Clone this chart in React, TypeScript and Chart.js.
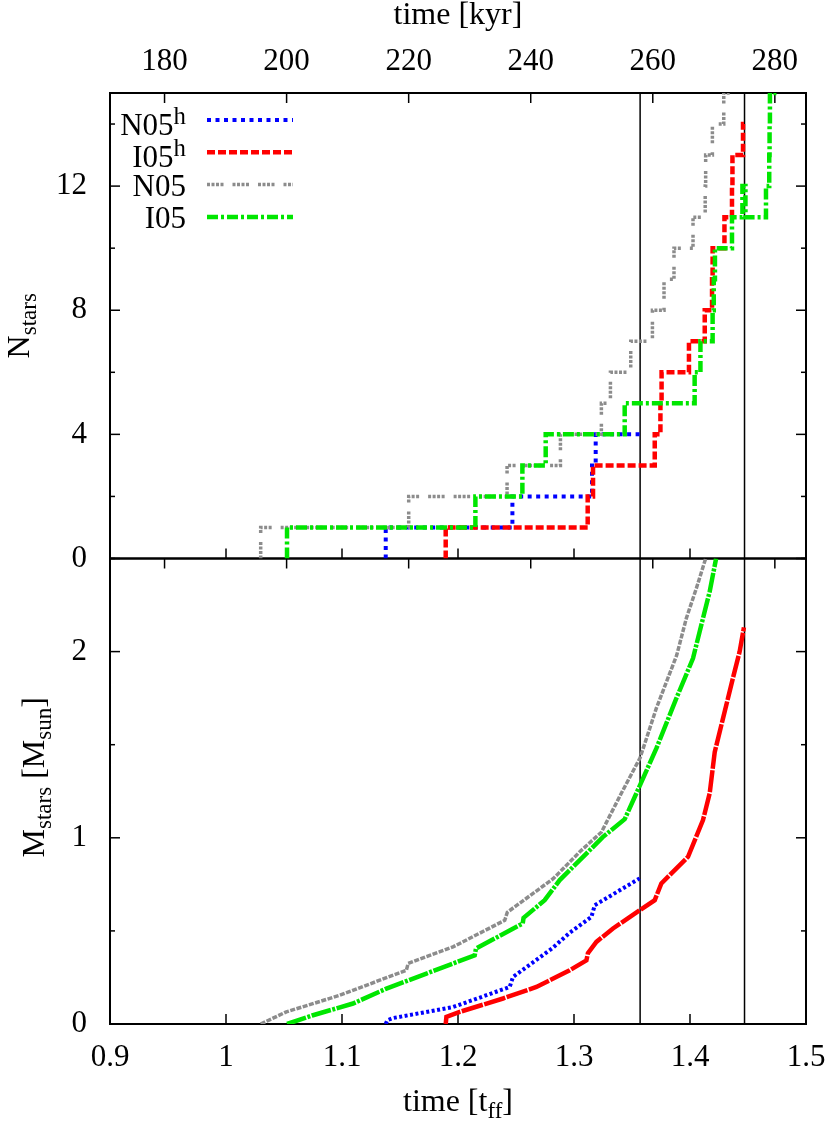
import React, { useEffect, useRef } from 'react';
import { Chart, registerables } from 'chart.js';

Chart.register(...registerables);

// ---------- axes ----------
const T_FF_KYR = 190.07; // one free-fall time in kyr (top axis)
const T_RANGE = [0.9, 1.5];
const N_RANGE = [0, 15];
const M_RANGE = [0, 2.5];

const tffTicks = [0.9, 1.0, 1.1, 1.2, 1.3, 1.4, 1.5];
const kyrTicks = [180, 200, 220, 240, 260, 280];
const nTicks = [0, 2, 4, 6, 8, 10, 12, 14];
const nLabelled = [0, 4, 8, 12];
const mTicks = [0, 0.5, 1, 1.5, 2, 2.5];
const mLabelled = [0, 1, 2];
const markerTimes = [1.357, 1.447];

// ---------- top panel: number of stars (step times, count after step) ----------
const n05hStepT = [1.1377, 1.1377, 1.2469, 1.3155, 1.3187, 1.3566];
const n05hStepN = [0, 1, 2, 3, 4, 4];

const i05hStepT = [1.1894, 1.1894, 1.3118, 1.3164, 1.3696, 1.3745, 1.3755, 1.3991, 1.4127, 1.419, 1.4195, 1.4297, 1.4362, 1.4366, 1.4457, 1.4465];
const i05hStepN = [0, 1, 2, 3, 4, 5, 6, 7, 8, 9, 10, 11, 12, 13, 14, 14];

const n05StepT = [1.0299, 1.0299, 1.1575, 1.2423, 1.2883, 1.3236, 1.3314, 1.3489, 1.3676, 1.3776, 1.3862, 1.4026, 1.4131, 1.4135, 1.4193, 1.4291, 1.44];
const n05StepN = [0, 1, 2, 3, 4, 5, 6, 7, 8, 9, 10, 11, 12, 13, 14, 15, 15];

const i05StepT = [1.0526, 1.0526, 1.215, 1.2555, 1.2756, 1.3437, 1.404, 1.409, 1.4195, 1.4205, 1.4215, 1.4362, 1.4452, 1.4478, 1.4655, 1.4683, 1.4686, 1.4689, 1.4745];
const i05StepN = [0, 1, 2, 3, 4, 5, 6, 7, 8, 9, 10, 11, 12, 11, 12, 13, 14, 15, 15];

// ---------- bottom panel: total stellar mass [M_sun] ----------
const n05hMassT = [1.1377, 1.139, 1.144, 1.1957, 1.2446, 1.2474, 1.2819, 1.2963, 1.315, 1.3179, 1.3566];
const n05hMassM = [0, 0.02, 0.032, 0.091, 0.199, 0.253, 0.41, 0.49, 0.575, 0.638, 0.782];

const i05hMassT = [1.1894, 1.19, 1.2015, 1.2388, 1.2676, 1.2963, 1.3107, 1.312, 1.3193, 1.3336, 1.3566, 1.3696, 1.3753, 1.3983, 1.4112, 1.417, 1.4213, 1.4284, 1.4371, 1.4428, 1.4465];
const i05hMassM = [0, 0.038, 0.065, 0.137, 0.199, 0.289, 0.342, 0.38, 0.441, 0.513, 0.611, 0.665, 0.755, 0.898, 1.095, 1.24, 1.46, 1.64, 1.86, 2.0, 2.13];

const n05MassT = [1.0299, 1.052, 1.098, 1.1555, 1.157, 1.1957, 1.2403, 1.2425, 1.282, 1.2963, 1.305, 1.3236, 1.3408, 1.357, 1.371, 1.3885, 1.3969, 1.4055, 1.4135];
const n05MassM = [0, 0.065, 0.154, 0.289, 0.325, 0.414, 0.557, 0.6, 0.78, 0.87, 0.925, 1.03, 1.239, 1.43, 1.696, 1.98, 2.18, 2.34, 2.5];

const i05MassT = [1.0526, 1.075, 1.1095, 1.1383, 1.1728, 1.2144, 1.2155, 1.2558, 1.2565, 1.2747, 1.2877, 1.305, 1.325, 1.3437, 1.3538, 1.371, 1.3883, 1.4026, 1.4083, 1.417, 1.4225];
const i05MassM = [0, 0.047, 0.11, 0.19, 0.271, 0.369, 0.405, 0.54, 0.57, 0.665, 0.773, 0.88, 1.005, 1.1, 1.239, 1.48, 1.75, 1.964, 2.107, 2.323, 2.5];

// ---------- styles ----------
const FONT = "'Liberation Serif', 'Times New Roman', Times, serif";
const TICK_SIZE = 31;
const TITLE_SIZE = 32;

const STYLES: any = {
  N05h: { color: '#0000ff', width: 4, dashTop: [4, 4.5], dashBottom: [3, 2.5] },
  I05h: { color: '#ff0000', width: 4.5, dashTop: [8, 3], dashBottom: [22, 1.5] },
  N05: { color: '#8c8c8c', width: 3.5, dashTop: [3, 1.5, 3, 1.5, 3, 1.5, 3, 9], dashBottom: [5, 1.5] },
  I05: { color: '#00e600', width: 4.5, dashTop: [11, 3, 3, 3], dashBottom: [20, 1.5, 3, 1.5] },
};

const SERIES = [
  { name: 'N05', sup: 'h', style: 'N05h', stepT: n05hStepT, stepN: n05hStepN, massT: n05hMassT, massM: n05hMassM, order: 4 },
  { name: 'I05', sup: 'h', style: 'I05h', stepT: i05hStepT, stepN: i05hStepN, massT: i05hMassT, massM: i05hMassM, order: 3 },
  { name: 'N05', sup: '', style: 'N05', stepT: n05StepT, stepN: n05StepN, massT: n05MassT, massM: n05MassM, order: 2 },
  { name: 'I05', sup: '', style: 'I05', stepT: i05StepT, stepN: i05StepN, massT: i05MassT, massM: i05MassM, order: 1 },
];

type Part = { text: string; mode?: 'sub' | 'sup' };

function drawParts(ctx: CanvasRenderingContext2D, parts: Part[], x: number, y: number, align: string, size: number) {
  const fontFor = (p: Part) => `${p.mode === 'sub' ? size * 0.72 : p.mode === 'sup' ? size * 0.8 : size}px ${FONT}`;
  let total = 0;
  const widths = parts.map((p) => {
    ctx.font = fontFor(p);
    const w = ctx.measureText(p.text).width;
    total += w;
    return w;
  });
  let cx = align === 'center' ? x - total / 2 : align === 'right' ? x - total : x;
  ctx.textAlign = 'left';
  ctx.textBaseline = 'alphabetic';
  parts.forEach((p, i) => {
    ctx.font = fontFor(p);
    const dy = p.mode === 'sub' ? size * 0.22 : p.mode === 'sup' ? -size * 0.36 : 0;
    ctx.fillText(p.text, cx, y + dy);
    cx += widths[i];
  });
}

const framePlugin = {
  id: 'gnuFrame',
  beforeDatasetsDraw(chart: any) {
    const { ctx, chartArea, scales } = chart;
    const x = scales.x;
    const x2 = scales.x2;
    const line = (a: number, b: number, c: number, d: number) => {
      ctx.beginPath();
      ctx.moveTo(a, b);
      ctx.lineTo(c, d);
      ctx.stroke();
    };
    ctx.save();
    ctx.strokeStyle = '#000';
    ctx.setLineDash([]);
    const panels: any[] = [
      [scales.yN, nTicks, nLabelled],
      [scales.yM, mTicks, mLabelled],
    ];
    for (const [ys, ticks, major] of panels) {
      const top = ys.top;
      const bottom = ys.bottom;
      const left = chartArea.left;
      const right = chartArea.right;
      ctx.lineWidth = 1.5;
      for (const t of tffTicks) {
        const px = x.getPixelForValue(t);
        line(px, bottom, px, bottom - 10);
      }
      for (const k of kyrTicks) {
        const px = x2.getPixelForValue(k);
        line(px, top, px, top + 10);
      }
      for (const v of ticks) {
        const py = ys.getPixelForValue(v);
        const len = major.includes(v) ? 10 : 5;
        line(left, py, left + len, py);
        line(right, py, right - len, py);
      }
      ctx.lineWidth = 2;
      ctx.strokeRect(left, top, right - left, bottom - top);
    }
    ctx.restore();
  },
  afterDraw(chart: any) {
    const { ctx, chartArea, scales } = chart;
    ctx.save();
    ctx.fillStyle = '#000';
    const cx = (chartArea.left + chartArea.right) / 2;
    drawParts(ctx, [{ text: 'time [kyr]' }], cx, 24, 'center', TITLE_SIZE);
    drawParts(ctx, [{ text: 'time [t' }, { text: 'ff', mode: 'sub' }, { text: ']' }], cx, 1111, 'center', TITLE_SIZE);

    const yN = scales.yN;
    const yM = scales.yM;
    ctx.save();
    ctx.translate(29, (yN.top + yN.bottom) / 2);
    ctx.rotate(-Math.PI / 2);
    drawParts(ctx, [{ text: 'N' }, { text: 'stars', mode: 'sub' }], 0, 0, 'center', TITLE_SIZE);
    ctx.restore();
    ctx.save();
    ctx.translate(44, (yM.top + yM.bottom) / 2 - 14);
    ctx.rotate(-Math.PI / 2);
    drawParts(ctx, [{ text: 'M' }, { text: 'stars', mode: 'sub' }, { text: ' [M' }, { text: 'sun', mode: 'sub' }, { text: ']' }], 0, 0, 'center', TITLE_SIZE);
    ctx.restore();

    // legend (top-left, inside the upper panel)
    const textRight = chartArea.left + 76;
    const lineX0 = chartArea.left + 97;
    const lineX1 = chartArea.left + 183;
    SERIES.forEach((s, i) => {
      const st = STYLES[s.style];
      const ly = yN.top + 27 + i * 32.3;
      ctx.save();
      ctx.strokeStyle = st.color;
      ctx.lineWidth = st.width;
      ctx.setLineDash(st.dashTop);
      ctx.beginPath();
      ctx.moveTo(lineX0, ly);
      ctx.lineTo(lineX1, ly);
      ctx.stroke();
      ctx.restore();
      const parts: Part[] = [{ text: s.name }];
      if (s.sup) parts.push({ text: s.sup, mode: 'sup' });
      drawParts(ctx, parts, textRight, ly + (s.sup ? 15 : 11), 'right', TICK_SIZE);
    });
    ctx.restore();
  },
};

function buildDatasets() {
  const ds: any[] = [];
  for (const s of SERIES) {
    const st = STYLES[s.style];
    ds.push({
      label: s.name + s.sup + ' Nstars',
      data: s.stepT.map((t, i) => ({ x: t, y: s.stepN[i] })),
      xAxisID: 'x',
      yAxisID: 'yN',
      stepped: 'before',
      borderColor: st.color,
      borderWidth: st.width,
      borderDash: st.dashTop,
      borderJoinStyle: 'miter',
      pointRadius: 0,
      fill: false,
      order: s.order,
    });
    ds.push({
      label: s.name + s.sup + ' Mstars',
      data: s.massT.map((t, i) => ({ x: t, y: s.massM[i] })),
      xAxisID: 'x',
      yAxisID: 'yM',
      borderColor: st.color,
      borderWidth: st.width,
      borderDash: st.dashBottom,
      pointRadius: 0,
      fill: false,
      tension: 0,
      order: s.order,
    });
  }
  for (const t of markerTimes) {
    ds.push({ label: 'marker', data: [{ x: t, y: N_RANGE[0] }, { x: t, y: N_RANGE[1] }], xAxisID: 'x', yAxisID: 'yN', borderColor: '#000', borderWidth: 1.5, pointRadius: 0, order: 10 });
    ds.push({ label: 'marker', data: [{ x: t, y: M_RANGE[0] }, { x: t, y: M_RANGE[1] }], xAxisID: 'x', yAxisID: 'yM', borderColor: '#000', borderWidth: 1.5, pointRadius: 0, order: 10 });
  }
  return ds;
}

const tickFont = { family: FONT, size: TICK_SIZE };
const fmt1 = (v: number) => String(Math.round(v * 10) / 10);

export default function App() {
  const ref = useRef<HTMLCanvasElement>(null);
  useEffect(() => {
    document.body.style.margin = '0';
    const canvas = ref.current as HTMLCanvasElement;
    const chart = new Chart(canvas, {
      type: 'line',
      data: { datasets: buildDatasets() },
      options: {
        responsive: false,
        animation: false,
        devicePixelRatio: 1,
        layout: { padding: { left: 0, right: 24, top: 0, bottom: 0 } },
        plugins: { legend: { display: false }, tooltip: { enabled: false }, title: { display: false } },
        scales: {
          x: {
            type: 'linear',
            position: 'bottom',
            min: T_RANGE[0],
            max: T_RANGE[1],
            afterBuildTicks: (s: any) => { s.ticks = tffTicks.map((v) => ({ value: v })); },
            ticks: { font: tickFont, color: '#000', padding: 15, maxRotation: 0, autoSkip: false, callback: (v: any) => fmt1(Number(v)) },
            grid: { display: false, drawTicks: false },
            border: { display: false },
            afterFit: (s: any) => { s.height = 100; s.paddingLeft = 0; s.paddingRight = 0; },
          },
          x2: {
            type: 'linear',
            position: 'top',
            min: T_RANGE[0] * T_FF_KYR,
            max: T_RANGE[1] * T_FF_KYR,
            afterBuildTicks: (s: any) => { s.ticks = kyrTicks.map((v) => ({ value: v })); },
            ticks: { font: tickFont, color: '#000', padding: 13, maxRotation: 0, autoSkip: false, callback: (v: any) => String(Math.round(Number(v))) },
            grid: { display: false, drawTicks: false },
            border: { display: false },
            afterFit: (s: any) => { s.height = 93; s.paddingLeft = 0; s.paddingRight = 0; },
          },
          yM: {
            type: 'linear',
            position: 'left',
            stack: 'panels',
            stackWeight: 1,
            weight: 1,
            min: M_RANGE[0],
            max: M_RANGE[1],
            afterBuildTicks: (s: any) => { s.ticks = mTicks.map((v) => ({ value: v })); },
            ticks: { font: tickFont, color: '#000', padding: 23, autoSkip: false, callback: (v: any) => (mLabelled.includes(Number(v)) ? String(v) : '') },
            grid: { display: false, drawTicks: false },
            border: { display: false },
            afterFit: (s: any) => { s.width = 110; s.paddingTop = 0; s.paddingBottom = 0; },
          },
          yN: {
            type: 'linear',
            position: 'left',
            stack: 'panels',
            stackWeight: 1,
            weight: 2,
            min: N_RANGE[0],
            max: N_RANGE[1],
            afterBuildTicks: (s: any) => { s.ticks = nTicks.map((v) => ({ value: v })); },
            ticks: { font: tickFont, color: '#000', padding: 23, autoSkip: false, callback: (v: any) => (nLabelled.includes(Number(v)) ? String(v) : '') },
            grid: { display: false, drawTicks: false },
            border: { display: false },
            afterFit: (s: any) => { s.width = 110; s.paddingTop = 0; s.paddingBottom = 0; },
          },
        },
      } as any,
      plugins: [framePlugin as any],
    });
    return () => chart.destroy();
  }, []);
  return <canvas ref={ref} width={830} height={1124} style={{ display: 'block', width: '830px', height: '1124px' }} />;
}
